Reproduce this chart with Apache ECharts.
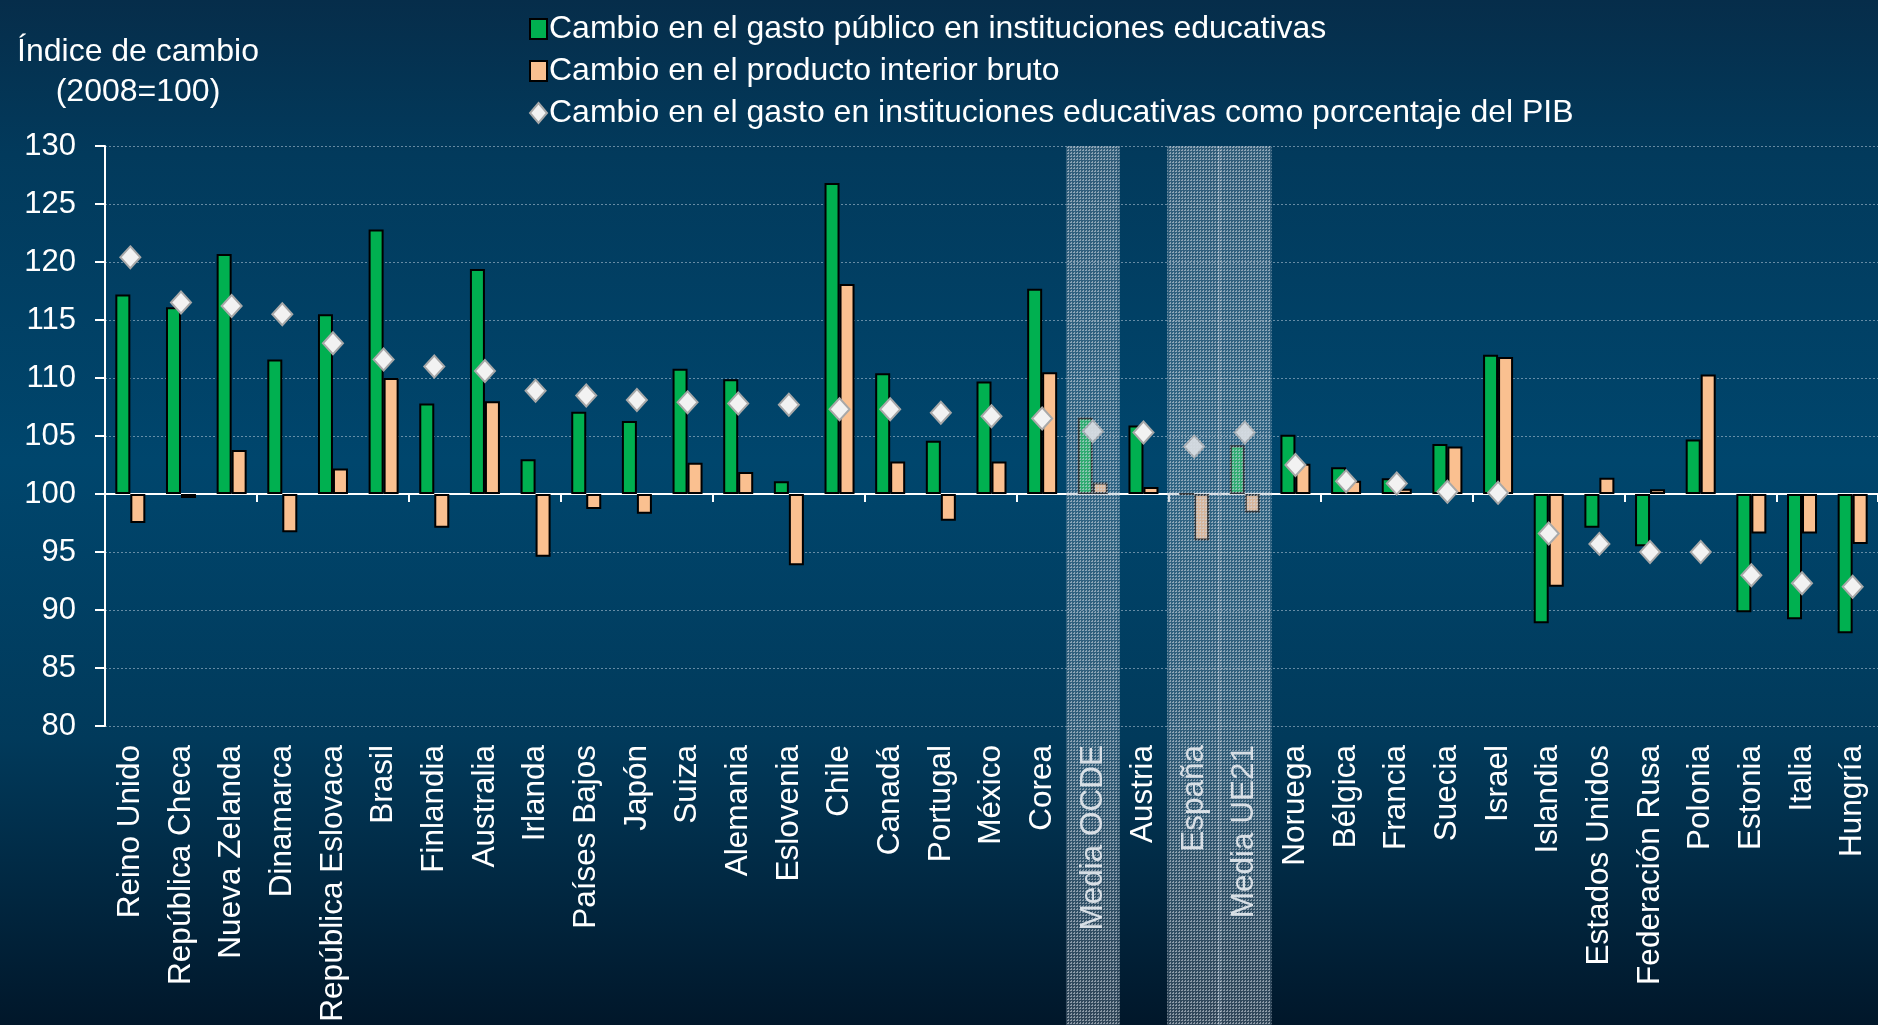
<!DOCTYPE html>
<html>
<head>
<meta charset="utf-8">
<script src="https://cdn.jsdelivr.net/npm/echarts@6/dist/echarts.min.js"></script>
<style>
html,body{margin:0;padding:0;background:#01304f;}
#chart{width:1878px;height:1025px;}
</style>
</head>
<body>
<div id="chart"></div>
<script>
const categories = ['Reino Unido','República Checa','Nueva Zelanda','Dinamarca','República Eslovaca','Brasil','Finlandia','Australia','Irlanda','Países Bajos','Japón','Suiza','Alemania','Eslovenia','Chile','Canadá','Portugal','México','Corea','Media OCDE','Austria','España','Media UE21','Noruega','Bélgica','Francia','Suecia','Israel','Islandia','Estados Unidos','Federación Rusa','Polonia','Estonia','Italia','Hungría'];
const gastoPublico = [117.2,116.1,120.7,111.6,115.5,122.8,107.8,119.4,103.0,107.1,106.3,110.8,109.9,101.1,126.8,110.4,104.6,109.7,117.7,106.6,105.9,100.0,104.2,105.1,102.3,101.35,104.3,112.0,88.85,97.1,95.5,104.7,89.8,89.2,88.0];
const pib = [97.5,99.65,103.8,96.7,102.2,110.0,97.1,108.0,94.6,98.7,98.3,102.7,101.9,93.85,118.1,102.8,97.7,102.8,110.5,101.0,100.6,96.0,98.4,102.6,101.15,100.45,104.1,111.8,92.0,101.4,100.4,110.3,96.6,96.6,95.7];
const gastoPctPib = [120.4,116.5,116.2,115.5,113.0,111.6,111.0,110.6,108.9,108.5,108.1,107.9,107.8,107.7,107.3,107.3,107.0,106.7,106.5,105.4,105.3,104.1,105.3,102.5,101.1,100.9,100.2,100.1,96.6,95.7,95.0,95.0,93.0,92.3,92.0];
const highlighted = ['Media OCDE','España','Media UE21'];
const baseValue = 100;
const yTicks = {min: 80, max: 130, step: 5};
const seriesNames = ['Cambio en el gasto público en instituciones educativas','Cambio en el producto interior bruto','Cambio en el gasto en instituciones educativas como porcentaje del PIB'];

const FONT = '"Liberation Sans", Arial, sans-serif';
const rel = arr => arr.map(v => v == null ? null : +(v - baseValue).toFixed(3));

// dotted pattern for highlighted bands
const pat = document.createElement('canvas');
pat.width = 3; pat.height = 3;
const pc = pat.getContext('2d');
pc.fillStyle = 'rgba(140,160,178,0.34)';
pc.fillRect(0,0,3,3);
pc.fillStyle = 'rgba(215,222,230,0.55)';
pc.fillRect(0,0,1,1);
pc.fillRect(2,0,1,1);
pc.fillRect(0,2,1,1);

const chart = echarts.init(document.getElementById('chart'), null, {renderer: 'canvas'});
chart.setOption({
  backgroundColor: {type:'linear', x:0, y:0, x2:0, y2:1, colorStops:[
    {offset:0, color:'#062d4a'},
    {offset:0.15, color:'#023a5c'},
    {offset:0.45, color:'#00466d'},
    {offset:0.72, color:'#013a5b'},
    {offset:1, color:'#01172a'}]},
  animation: false,
  title: {
    text: 'Índice de cambio\n(2008=100)',
    left: 133, top: 27, textAlign: 'center',
    textStyle: {color:'#ffffff', fontFamily: FONT, fontSize: 32, fontWeight: 'normal', lineHeight: 40}
  },
  legend: {
    data: [
      {name: seriesNames[0], icon: 'rect'},
      {name: seriesNames[1], icon: 'rect'},
      {name: seriesNames[2], icon: 'diamond'}
    ],
    orient: 'vertical', left: 524, top: 8,
    itemWidth: 17, itemHeight: 20, itemGap: 10,
    textStyle: {color:'#ffffff', fontFamily: FONT, fontSize: 32, lineHeight: 32, padding:[0,0,0,-3]}
  },
  grid: {left: 105, right: 0, top: 146, bottom: 299, containLabel: false},
  xAxis: [
    {type:'category', data: categories, position:'bottom',
     axisLine:{onZero:true, lineStyle:{color:'#ffffff', width:2}},
     axisTick:{show:true, length:8, lineStyle:{color:'#ffffff', width:2}},
     axisLabel:{show:false}},
    {type:'category', data: categories, position:'bottom',
     axisLine:{show:false, onZero:false}, axisTick:{show:false},
     axisLabel:{show:true, rotate:90, interval:0, margin:19, color:'#ffffff', fontFamily: FONT, fontSize:31.5}}
  ],
  yAxis: {
    type:'value', min: yTicks.min - baseValue, max: yTicks.max - baseValue, interval: yTicks.step,
    axisLine:{show:true, lineStyle:{color:'#ffffff', width:2}},
    axisTick:{show:true, length:10, lineStyle:{color:'#ffffff', width:2}},
    axisLabel:{color:'#ffffff', fontFamily: FONT, fontSize:31, margin:29, formatter: v => String(v + baseValue)},
    splitLine:{show:true, lineStyle:{color:'rgba(185,202,218,0.55)', width:1, type:[2,2]}}
  },
  series: [
    {name: seriesNames[0], type:'bar', xAxisIndex:0, data: rel(gastoPublico), barWidth:15, barGap:'0%',
     itemStyle:{color:'#00b050', borderColor:'#000000', borderWidth:2}},
    {name: seriesNames[1], type:'bar', xAxisIndex:0, data: rel(pib), barWidth:15, barGap:'0%',
     itemStyle:{color:'#fac090', borderColor:'#000000', borderWidth:2}},
    {name: seriesNames[2], type:'scatter', xAxisIndex:0, data: rel(gastoPctPib), symbol:'diamond', symbolSize:[20,22], z:4,
     itemStyle:{color:'#f2f2f2', borderColor:'#a8a8a8', borderWidth:2, opacity:1}},
    {name:'bandas', type:'custom', xAxisIndex:0, z:10, silent:true, clip:false,
     data: highlighted.map(c => [categories.indexOf(c)]),
     renderItem: function(params, api){
       const idx = api.value(0);
       const top = api.coord([idx, yTicks.max - baseValue]);
       const w = api.size([1, 0])[0] + 3;
       return {type:'rect', shape:{x: top[0] - w/2, y: top[1], width: w, height: api.getHeight() - top[1]},
               style:{fill:{image: pat, repeat:'repeat'}}};
     }}
  ]
});
</script>
</body>
</html>
